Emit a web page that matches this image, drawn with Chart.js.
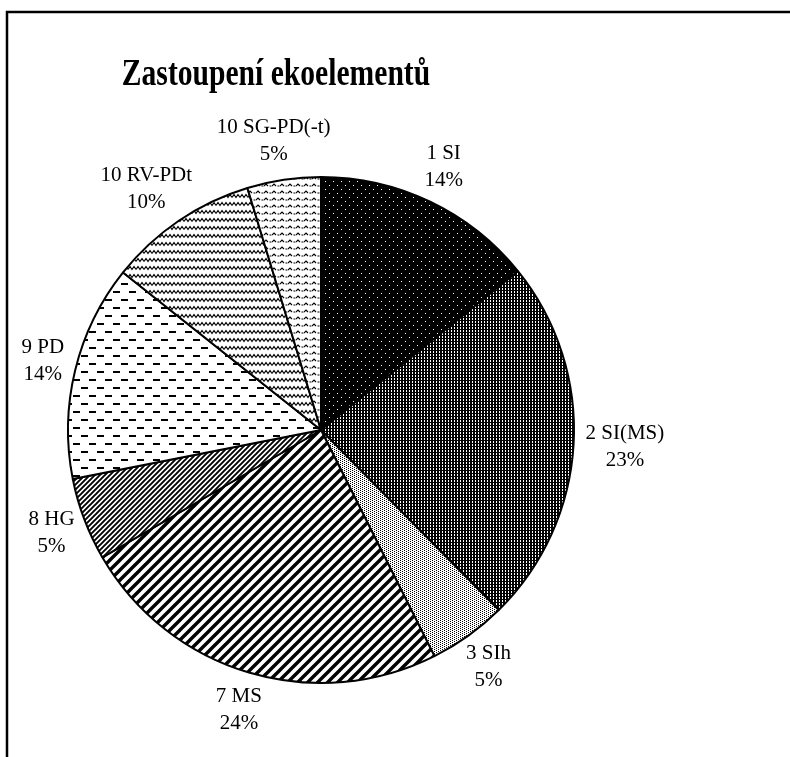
<!DOCTYPE html>
<html>
<head>
<meta charset="utf-8">
<script src="https://cdn.jsdelivr.net/npm/chart.js@4/dist/chart.umd.min.js"></script>
<style>
  html, body { margin: 0; padding: 0; background: #fff; overflow: hidden; }
</style>
</head>
<body>
<canvas id="myChart" width="790" height="757"></canvas>
<script>
// data
const categories = ["1 SI", "2 SI(MS)", "3 SIh", "7 MS", "8 HG", "9 PD", "10 RV-PDt", "10 SG-PD(-t)"];
const shares = [14.2, 23.4, 5.0, 24.0, 5.3, 13.8, 9.6, 4.7];
const chartTitle = "Zastoupení ekoelementů";

const percentLabels = shares.map(v => Math.round(v) + "%");

const canvas = document.getElementById("myChart");
const ctx0 = canvas.getContext("2d");

// small tiles for the black & white fill patterns
function tile(w, h, draw) {
  const c = document.createElement("canvas");
  c.width = w;
  c.height = h;
  const g = c.getContext("2d");
  draw(g, w, h);
  return ctx0.createPattern(c, "repeat");
}

const patterns = [
  // 1 SI - black with fine white dots
  tile(8, 8, (g) => {
    g.fillStyle = "#000"; g.fillRect(0, 0, 8, 8);
    g.fillStyle = "#fff"; g.fillRect(1, 1, 1, 1); g.fillRect(5, 5, 1, 1);
  }),
  // 2 SI(MS) - dark mesh
  tile(3, 3, (g) => {
    g.fillStyle = "#000"; g.fillRect(0, 0, 3, 3);
    g.fillStyle = "#fff"; g.fillRect(1, 0, 1, 2);
  }),
  // 3 SIh - light dotted
  tile(4, 2, (g) => {
    g.fillStyle = "#fff"; g.fillRect(0, 0, 4, 2);
    g.fillStyle = "#000"; g.fillRect(0, 0, 1, 1); g.fillRect(2, 1, 1, 1);
  }),
  // 7 MS - wide upward diagonal
  tile(10, 10, (g) => {
    g.fillStyle = "#fff"; g.fillRect(0, 0, 10, 10);
    g.strokeStyle = "#000"; g.lineWidth = 3.4;
    g.beginPath();
    g.moveTo(-2, 12); g.lineTo(12, -2);
    g.moveTo(-2, 2); g.lineTo(2, -2);
    g.moveTo(8, 12); g.lineTo(12, 8);
    g.stroke();
  }),
  // 8 HG - narrow upward diagonal
  tile(5, 5, (g) => {
    g.fillStyle = "#fff"; g.fillRect(0, 0, 5, 5);
    g.strokeStyle = "#000"; g.lineWidth = 1.9;
    g.beginPath();
    g.moveTo(-1, 6); g.lineTo(6, -1);
    g.moveTo(-1, 1); g.lineTo(1, -1);
    g.moveTo(4, 6); g.lineTo(6, 4);
    g.stroke();
  }),
  // 9 PD - horizontal dashes
  tile(16, 16, (g) => {
    g.fillStyle = "#fff"; g.fillRect(0, 0, 16, 16);
    g.fillStyle = "#000";
    g.fillRect(1, 3, 7, 2);
    g.fillRect(9, 11, 7, 2);
  }),
  // 10 RV-PDt - zigzag waves
  tile(8, 8, (g) => {
    g.fillStyle = "#fff"; g.fillRect(0, 0, 8, 8);
    g.strokeStyle = "#000"; g.lineWidth = 1.2;
    g.beginPath();
    g.moveTo(0, 5.5); g.lineTo(2, 2.5); g.lineTo(4, 5.5); g.lineTo(6, 2.5); g.lineTo(8, 5.5);
    g.stroke();
  }),
  // 10 SG-PD(-t) - broken small waves
  tile(8, 7, (g) => {
    g.fillStyle = "#fff"; g.fillRect(0, 0, 8, 7);
    g.strokeStyle = "#000"; g.lineWidth = 1.1;
    g.beginPath();
    g.moveTo(0, 4); g.lineTo(2, 2); g.lineTo(4, 4);
    g.moveTo(5.5, 4); g.lineTo(7.5, 4);
    g.stroke();
  }),
];

const framePlugin = {
  id: "frame",
  beforeDraw(chart) {
    const ctx = chart.ctx;
    ctx.save();
    ctx.fillStyle = "#fff";
    ctx.fillRect(0, 0, chart.width, chart.height);
    ctx.strokeStyle = "#000";
    ctx.lineWidth = 2.5;
    ctx.beginPath();
    ctx.moveTo(chart.width, 12);
    ctx.lineTo(7, 12);
    ctx.lineTo(7, chart.height);
    ctx.stroke();
    ctx.restore();
  },
  afterDraw(chart) {
    const ctx = chart.ctx;
    ctx.save();
    ctx.fillStyle = "#000";
    ctx.textAlign = "center";
    ctx.textBaseline = "middle";
    ctx.font = "bold 37px 'Liberation Serif'";
    ctx.translate(276, 75);
    ctx.scale(0.8, 1);
    ctx.fillText(chartTitle, 0, 0);
    ctx.restore();
  }
};

const labelPlugin = {
  id: "sliceLabels",
  afterDatasetsDraw(chart) {
    const ctx = chart.ctx;
    const meta = chart.getDatasetMeta(0);
    ctx.save();
    ctx.font = "21px 'Liberation Serif'";
    ctx.fillStyle = "#000";
    ctx.textAlign = "center";
    ctx.textBaseline = "middle";
    const lh = 27;
    meta.data.forEach((arc, i) => {
      const p = arc.getProps(["x", "y", "startAngle", "endAngle", "outerRadius"], true);
      const mid = (p.startAngle + p.endAngle) / 2;
      const dx = Math.cos(mid), dy = Math.sin(mid);
      const lines = [categories[i], percentLabels[i]];
      const w = Math.max(...lines.map(t => ctx.measureText(t).width));
      const h = lh * 2;
      const r = p.outerRadius + 12;
      const cx = p.x + dx * r + dx * w / 2;
      const cy = p.y + dy * r + dy * h / 2;
      ctx.fillText(lines[0], cx, cy - lh / 2);
      ctx.fillText(lines[1], cx, cy + lh / 2);
    });
    ctx.restore();
  }
};

new Chart(canvas, {
  type: "pie",
  data: {
    labels: categories,
    datasets: [
      {
        data: shares,
        backgroundColor: patterns,
        borderColor: "#000",
        borderWidth: 2,
      },
    ],
  },
  options: {
    responsive: false,
    animation: false,
    layout: {
      padding: { left: 67, top: 176, right: 215, bottom: 73 },
    },
    plugins: {
      legend: { display: false },
      tooltip: { enabled: false },
      title: { display: false },
    },
  },
  plugins: [framePlugin, labelPlugin],
});
</script>
</body>
</html>
